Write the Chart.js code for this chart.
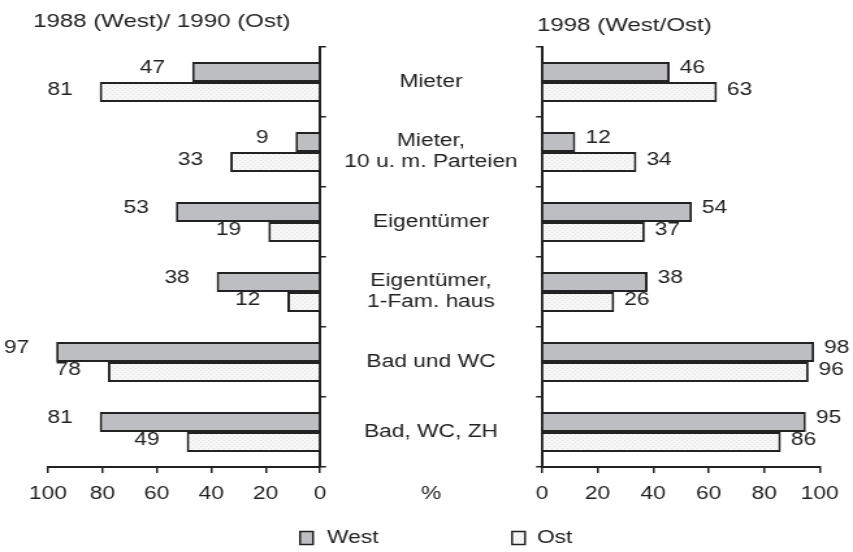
<!DOCTYPE html>
<html><head><meta charset="utf-8">
<script src="https://cdn.jsdelivr.net/npm/chart.js@4"></script>
<style>
html,body{margin:0;padding:0;background:#fff;}
#wrap{position:relative;width:853px;height:552px;overflow:hidden;background:#fff;}
canvas{position:absolute;left:0;top:0;}
</style></head><body>
<div id="wrap">
<canvas id="cL" width="656" height="552" style="width:853px;height:552px"></canvas>
<canvas id="cR" width="656" height="552" style="width:853px;height:552px"></canvas>
</div>
<script>
// ---- data ----
const categories = [['Mieter'], ['Mieter,', '10 u. m. Parteien'], ['Eigentümer'], ['Eigentümer,', '1-Fam. haus'], ['Bad und WC'], ['Bad, WC, ZH']];
const seriesNames = ['West', 'Ost'];
const west1988 = [47, 9, 53, 38, 97, 81];
const ost1990 = [81, 33, 19, 12, 78, 49];
const west1998 = [46, 12, 54, 38, 98, 95];
const ost1998 = [63, 34, 37, 26, 96, 86];
const xTickStep = 20;
const xMin = 0, xMax = 100;
const titleLeft = '1988 (West)/ 1990 (Ost)';
const titleRight = '1998 (West/Ost)';
const unitLabel = '%';

// ---- layout helpers (canvas is drawn narrow and stretched horizontally) ----
const S = 853 / 656;
const X = v => v / S;
const FONT = '"Liberation Sans", Arial, Helvetica, sans-serif';
const INK = '#222';
const westFill = '#bdbec2';
function ostPattern() {
  const c = document.createElement('canvas'); c.width = 4; c.height = 4;
  const g = c.getContext('2d');
  g.fillStyle = '#f6f6f6'; g.fillRect(0, 0, 4, 4);
  g.fillStyle = '#e4e4e4'; g.fillRect(0, 0, 1, 1); g.fillRect(2, 2, 1, 1);
  return g.createPattern(c, 'repeat');
}
const ostFill = ostPattern();

Chart.defaults.animation = false;
Chart.defaults.font.family = FONT;
Chart.defaults.color = INK;

function ds(label, data, fill) {
  return { label, data, backgroundColor: fill, borderColor: INK, borderWidth: 2,
    borderSkipped: 'start', categoryPercentage: 0.57, barPercentage: 1.0 };
}

const valueLabels = {
  id: 'valueLabels',
  afterDatasetsDraw(chart, args, opts) {
    const ctx = chart.ctx; ctx.save();
    ctx.font = '17.5px ' + FONT; ctx.fillStyle = INK; ctx.textBaseline = 'middle';
    chart.data.datasets.forEach((d, di) => {
      const meta = chart.getDatasetMeta(di);
      meta.data.forEach((el, i) => {
        const dy = di === 0 ? -4 : -2;
        if (opts.side === 'left') { ctx.textAlign = 'right'; ctx.fillText(String(d.data[i]), el.x - X(27), el.y + dy); }
        else { ctx.textAlign = 'left'; ctx.fillText(String(d.data[i]), el.x + X(10), el.y + dy); }
      });
    });
    ctx.restore();
  }
};

const panelTitle = {
  id: 'panelTitle',
  afterDraw(chart, args, opts) {
    const ctx = chart.ctx; ctx.save();
    ctx.font = '18.5px ' + FONT; ctx.fillStyle = INK; ctx.textAlign = 'left'; ctx.textBaseline = 'middle';
    ctx.fillText(opts.text, X(opts.x), opts.y);
    ctx.restore();
  }
};

const extras = {
  id: 'extras',
  afterDraw(chart, args, opts) {
    if (!opts.on) return;
    const ctx = chart.ctx; ctx.save();
    ctx.font = '17.5px ' + FONT; ctx.fillStyle = INK;
    const xs = chart.scales.x;
    ctx.textAlign = 'center'; ctx.textBaseline = 'middle';
    ctx.fillText(unitLabel, X(431), xs.top + 6 + 11 + 10);
    const pos = [{ box: 300, text: 327 }, { box: 512, text: 537 }];
    const cy = 538;
    chart.data.datasets.forEach((d, i) => {
      const p = pos[i];
      ctx.fillStyle = d.backgroundColor; ctx.fillRect(X(p.box), cy - 6.5, X(13), 13);
      ctx.strokeStyle = INK; ctx.lineWidth = 1.5; ctx.strokeRect(X(p.box), cy - 6.5, X(13), 13);
      ctx.fillStyle = INK; ctx.textAlign = 'left'; ctx.textBaseline = 'middle';
      ctx.fillText(d.label, X(p.text), cy);
    });
    ctx.restore();
  }
};

const yWL = X(6) + 1;
const catFontSize = 17.5;
const mctx = document.createElement('canvas').getContext('2d');
mctx.font = catFontSize + 'px ' + FONT;
let widest = 0;
categories.forEach(c => c.forEach(l => { widest = Math.max(widest, mctx.measureText(l).width); }));
const yWR = X(542);
const catPad = yWR - X(6) - X(431) - widest / 2;

function xAxis(reverse) {
  return {
    type: 'linear', min: xMin, max: xMax, reverse,
    ticks: { stepSize: xTickStep, font: { size: 17.5 }, color: INK, padding: 11 },
    grid: { drawOnChartArea: false, tickLength: 6, color: INK, lineWidth: 1.5 },
    border: { display: true, color: INK, width: 2 },
    afterFit(s) { s.height = 40; }
  };
}

new Chart(document.getElementById('cL'), {
  type: 'bar',
  data: { labels: categories, datasets: [ds(seriesNames[0], west1988, westFill), ds(seriesNames[1], ost1990, ostFill)] },
  options: {
    indexAxis: 'y', responsive: false, devicePixelRatio: 1,
    layout: { padding: { left: X(48), right: 656 - X(320) - yWL, top: 47, bottom: 45 } },
    scales: {
      x: xAxis(true),
      y: { position: 'right', ticks: { display: false },
        grid: { drawOnChartArea: false, tickLength: X(6), color: INK, lineWidth: 1.5 },
        border: { display: true, color: INK, width: 2 },
        afterFit(s) { s.width = yWL; } }
    },
    plugins: {
      legend: { display: false }, tooltip: { enabled: false }, title: { display: false },
      valueLabels: { side: 'left' }, extras: { on: false },
      panelTitle: { text: titleLeft, x: 33, y: 22 }
    }
  },
  plugins: [valueLabels, extras, panelTitle]
});

new Chart(document.getElementById('cR'), {
  type: 'bar',
  data: { labels: categories, datasets: [ds(seriesNames[0], west1998, westFill), ds(seriesNames[1], ost1998, ostFill)] },
  options: {
    indexAxis: 'y', responsive: false, devicePixelRatio: 1,
    layout: { padding: { left: 0, right: 656 - X(823), top: 47, bottom: 45 } },
    scales: {
      x: xAxis(false),
      y: { position: 'left',
        ticks: { crossAlign: 'center', padding: catPad, color: INK, font: { size: catFontSize, lineHeight: 1.2 } },
        grid: { drawOnChartArea: false, tickLength: X(6), color: INK, lineWidth: 1.5 },
        border: { display: true, color: INK, width: 2 },
        afterFit(s) { s.width = yWR; } }
    },
    plugins: {
      legend: { display: false }, tooltip: { enabled: false }, title: { display: false },
      valueLabels: { side: 'right' }, extras: { on: true },
      panelTitle: { text: titleRight, x: 537, y: 26 }
    }
  },
  plugins: [valueLabels, extras, panelTitle]
});
</script>
</body></html>
